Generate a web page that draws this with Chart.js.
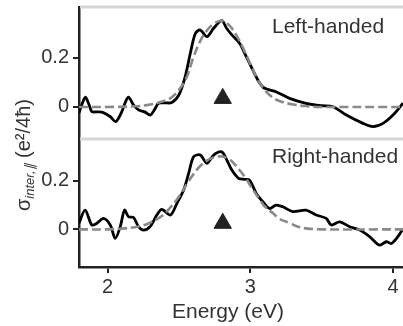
<!DOCTYPE html>
<html><head><meta charset="utf-8">
<script src="https://cdn.jsdelivr.net/npm/chart.js@4.4.1/dist/chart.umd.min.js"></script>
<style>html,body{margin:0;padding:0;background:#fff;}canvas{display:block;}</style>
</head><body>
<canvas id="c" width="403" height="326"></canvas>
<script>
const panelLabels = ['Left-handed', 'Right-handed'];
const xTicks = [2, 3, 4];
const yTicks = [0, 0.2];
const xTitle = 'Energy (eV)';

const leftEnergy = [1.80,1.82,1.845,1.87,1.89,1.93,1.97,2.02,2.058,2.10,2.125,2.147,2.18,2.217,2.26,2.30,2.33,2.357,2.40,2.45,2.50,2.544,2.58,2.615,2.65,2.696,2.743,2.80,2.835,2.871,2.925,2.96,2.995,3.053,3.09,3.123,3.18,3.275,3.39,3.50,3.58,3.673,3.79,3.86,3.93,4.00,4.07];
const leftData   = [-0.024,0.01,0.04,0.01,-0.019,-0.02,-0.023,-0.04,-0.06,-0.019,0.02,0.04,0.01,-0.012,-0.02,-0.033,-0.01,0.015,0.017,0.018,0.049,0.124,0.219,0.30,0.314,0.287,0.321,0.352,0.32,0.294,0.26,0.22,0.178,0.11,0.08,0.072,0.062,0.035,0.015,0.005,0.001,-0.033,-0.067,-0.08,-0.067,-0.033,0.015];

const leftFitEnergy = [1.80,2.00,2.20,2.30,2.40,2.45,2.50,2.55,2.60,2.65,2.70,2.75,2.80,2.85,2.90,2.95,3.00,3.05,3.10,3.15,3.20,3.30,3.40,3.50,4.07];
const leftFit       = [0,0,0.003,0.01,0.025,0.04,0.07,0.115,0.2,0.27,0.315,0.342,0.352,0.335,0.295,0.24,0.175,0.115,0.07,0.042,0.025,0.01,0.003,0,0];

const rightEnergy = [1.80,1.843,1.89,1.925,1.972,2.019,2.054,2.089,2.119,2.147,2.182,2.217,2.252,2.298,2.345,2.38,2.44,2.486,2.533,2.568,2.603,2.65,2.696,2.743,2.80,2.836,2.871,2.918,2.96,2.995,3.042,3.088,3.135,3.18,3.228,3.298,3.39,3.462,3.532,3.567,3.626,3.696,3.766,3.836,3.906,3.953,3.988,4.034,4.07];
const rightData   = [0.025,0.079,0.018,0.025,0.045,0.018,-0.037,0.011,0.079,0.052,0.049,0.011,-0.003,0.011,0.059,0.082,0.059,0.107,0.162,0.23,0.299,0.306,0.272,0.306,0.319,0.285,0.244,0.21,0.206,0.203,0.148,0.114,0.086,0.1,0.093,0.073,0.079,0.059,0.045,0.018,0.031,0.011,-0.003,-0.03,-0.065,-0.051,-0.058,-0.03,0.003];

const rightFitEnergy = [1.80,2.00,2.10,2.20,2.26,2.30,2.38,2.44,2.50,2.57,2.64,2.70,2.75,2.80,2.85,2.90,2.93,2.97,3.00,3.07,3.10,3.16,3.20,3.28,3.33,3.39,3.50,4.07];
const rightFit       = [0,0,0.003,0.01,0.018,0.028,0.055,0.09,0.134,0.2,0.255,0.285,0.297,0.3,0.29,0.262,0.24,0.21,0.18,0.12,0.095,0.066,0.045,0.025,0.012,0.004,0,0];

const peakEnergy = [2.807];
const leftPeak = [0.035];
const rightPeak = [0.025];

const zip = (xs, ys) => xs.map((x, i) => ({x: x, y: ys[i]}));
const FONT = '"Liberation Sans", Arial, Helvetica, sans-serif';
const TXT = '#333';
const AX = '#222';

function yAxis(min, max, weight, stackWeight) {
  return {
    type: 'linear', position: 'left', stack: 'panels', stackWeight: stackWeight, weight: weight,
    min: min, max: max,
    afterBuildTicks: s => { s.ticks = yTicks.map(v => ({value: v})); },
    ticks: {font: {family: FONT, size: 20}, color: TXT, padding: 4,
      callback: v => (v === 0 ? '0' : v.toFixed(1))},
    grid: {drawOnChartArea: false, drawTicks: true, tickLength: 6, color: AX, lineWidth: 2},
    border: {color: AX, width: 2.5},
    afterFit: s => { s.width = 79; s.paddingTop = 0; s.paddingBottom = 0; }
  };
}

const panelDeco = {
  id: 'panelDeco',
  beforeDatasetsDraw(chart) {
    const ctx = chart.ctx, a = chart.chartArea;
    ctx.save();
    ctx.strokeStyle = '#d6d6d6';
    ctx.lineWidth = 3;
    ['yTop', 'yBot'].forEach(id => {
      const s = chart.scales[id];
      ctx.beginPath();
      ctx.moveTo(a.left + 1, s.top);
      ctx.lineTo(a.right, s.top);
      ctx.stroke();
    });
    ctx.restore();
  },
  afterDraw(chart) {
    const ctx = chart.ctx;
    ctx.save();
    ctx.fillStyle = TXT;
    ctx.textAlign = 'left';
    ctx.textBaseline = 'alphabetic';
    ctx.font = '21px ' + FONT;
    ctx.fillText(panelLabels[0], 272, chart.scales.yTop.top + 26);
    ctx.fillText(panelLabels[1], 272, chart.scales.yBot.top + 24);
    // x-axis title
    ctx.textAlign = 'center';
    ctx.fillText(xTitle, 228, 318);
    ctx.textAlign = 'left';
    // y-axis title
    ctx.translate(30, 155);
    ctx.rotate(-Math.PI / 2);
    const f1 = '20px ' + FONT, f2 = 'italic 13px ' + FONT;
    ctx.font = f1;
    const wS = ctx.measureText('σ').width;
    const wR = ctx.measureText(' (e²/4ħ)').width;
    ctx.font = f2;
    const wSub = ctx.measureText('inter,∥').width;
    let x0 = -(wS + wSub + wR) / 2;
    ctx.font = f1; ctx.fillText('σ', x0, 0); x0 += wS;
    ctx.font = f2; ctx.fillText('inter,∥', x0, 4); x0 += wSub;
    ctx.font = f1; ctx.fillText(' (e²/4ħ)', x0, 0);
    ctx.restore();
  }
};

new Chart(document.getElementById('c'), {
  type: 'line',
  data: {
    datasets: [
      {data: zip(leftFitEnergy, leftFit), yAxisID: 'yTop', borderColor: '#8a8a8a', borderWidth: 2.6, borderDash: [9, 4], pointRadius: 0, tension: 0.4, fill: false},
      {data: zip(leftEnergy, leftData), yAxisID: 'yTop', borderColor: '#000', borderWidth: 2.8, pointRadius: 0, tension: 0.3, fill: false},
      {data: zip(peakEnergy, leftPeak), yAxisID: 'yTop', showLine: false, pointStyle: 'triangle', pointRadius: 10, backgroundColor: '#222', borderColor: '#222', borderWidth: 1},
      {data: zip(rightFitEnergy, rightFit), yAxisID: 'yBot', borderColor: '#8a8a8a', borderWidth: 2.6, borderDash: [9, 4], pointRadius: 0, tension: 0.4, fill: false},
      {data: zip(rightEnergy, rightData), yAxisID: 'yBot', borderColor: '#000', borderWidth: 2.8, pointRadius: 0, tension: 0.3, fill: false},
      {data: zip(peakEnergy, rightPeak), yAxisID: 'yBot', showLine: false, pointStyle: 'triangle', pointRadius: 10, backgroundColor: '#222', borderColor: '#222', borderWidth: 1}
    ]
  },
  options: {
    responsive: false,
    animation: false,
    events: [],
    layout: {autoPadding: false, padding: {top: 7, right: 0, left: 0, bottom: 0}},
    plugins: {legend: {display: false}, tooltip: {enabled: false}},
    scales: {
      x: {
        type: 'linear', position: 'bottom', min: 1.8, max: 4.07,
        afterBuildTicks: s => { s.ticks = xTicks.map(v => ({value: v})); },
        ticks: {font: {family: FONT, size: 20}, color: TXT, padding: 2, callback: v => String(v)},
        grid: {drawOnChartArea: false, drawTicks: true, tickLength: 6, color: AX, lineWidth: 2},
        border: {color: AX, width: 2.5},
        title: {display: false, text: xTitle},
        afterFit: s => { s.height = 59; s.paddingLeft = 0; s.paddingRight = 0; }
      },
      yTop: yAxis(-0.1308, 0.408, 2, 132),
      yBot: yAxis(-0.155, 0.372, 1, 128)
    }
  },
  plugins: [panelDeco]
});
</script>
</body></html>
